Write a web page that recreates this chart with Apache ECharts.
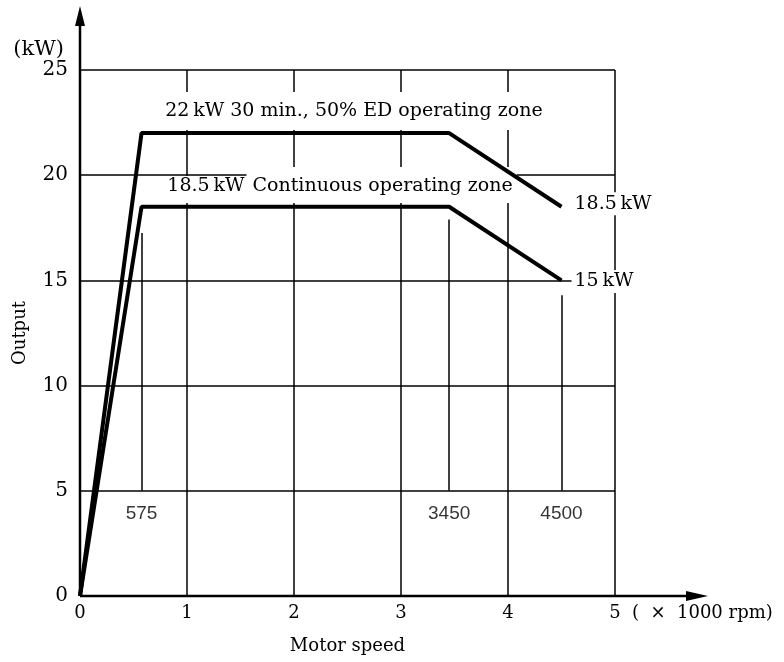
<!DOCTYPE html>
<html>
<head>
<meta charset="utf-8">
<title>Output vs motor speed</title>
<script src="https://cdn.jsdelivr.net/npm/echarts@6/dist/echarts.min.js"></script>
<style>
  html, body { margin: 0; padding: 0; background: #fff; }
  #chart { width: 784px; height: 662px; }
</style>
</head>
<body>
<div id="chart"></div>
<script>
// motor speed in 1000 rpm, output in kW
var speed = [0, 0.575, 3.45, 4.5];
var out30min = [0, 22, 22, 18.5];
var outCont = [0, 18.5, 18.5, 15];

// thin marker lines under the corner speeds
var markSpeed = [0.575, 3.45, 4.5];
var markTop = [17.25, 17.9, 14.3];
var markBottom = 5;
var markLabelAt = 3.9;

var serif = 'DejaVu Serif';

function pairs(xs, ys) {
  return xs.map(function (x, i) { return [x, ys[i]]; });
}

var chart = echarts.init(document.getElementById('chart'));

var option = {
  animation: false,
  backgroundColor: '#fff',
  grid: { left: 80, right: 169, top: 70, bottom: 66, outerBoundsMode: 'none' },
  xAxis: [{
    type: 'value', min: 0, max: 5, interval: 1,
    axisLine: { show: false }, axisTick: { show: false },
    axisLabel: { color: '#000', fontFamily: serif, fontSize: 18, margin: 8 },
    splitLine: { lineStyle: { color: '#000', width: 1.5 } },
    name: '(  ×  1000 rpm)', nameLocation: 'end', nameGap: 17,
    nameTextStyle: { color: '#000', fontFamily: serif, fontSize: 18, align: 'left', verticalAlign: 'top', padding: [8, 0, 0, 0] }
  }, {
    type: 'value', min: 0, max: 5, position: 'bottom',
    axisLine: { show: false }, axisTick: { show: false }, axisLabel: { show: false }, splitLine: { show: false },
    name: 'Motor speed', nameLocation: 'middle', nameGap: 41,
    nameTextStyle: { color: '#000', fontFamily: serif, fontSize: 18 }
  }],
  yAxis: [{
    type: 'value', min: 0, max: 25, interval: 5,
    axisLine: { show: false }, axisTick: { show: false },
    axisLabel: { color: '#000', fontFamily: serif, fontSize: 20, margin: 12 },
    splitLine: { lineStyle: { color: '#000', width: 1.5 } },
    name: '(kW)', nameLocation: 'end', nameGap: 10,
    nameTextStyle: { color: '#000', fontFamily: serif, fontSize: 21, align: 'right', padding: [0, 16, 0, 0] }
  }, {
    type: 'value', min: 0, max: 25, position: 'left',
    axisLine: { show: false }, axisTick: { show: false }, axisLabel: { show: false }, splitLine: { show: false },
    name: 'Output', nameLocation: 'middle', nameGap: 51,
    nameTextStyle: { color: '#000', fontFamily: serif, fontSize: 18 }
  }],
  series: [{
    name: '30 min', type: 'line', z: 4,
    data: pairs(speed, out30min),
    symbol: 'none',
    lineStyle: { color: '#000', width: 4 },
    endLabel: {
      show: true,
      formatter: function () { return out30min[out30min.length - 1] + '\u2009kW'; },
      color: '#000', fontFamily: serif, fontSize: 19,
      backgroundColor: '#fff', padding: [2, 3], distance: 10, offset: [0, -3]
    },
    markPoint: {
      z: 3,
      symbol: 'circle', symbolSize: 0,
      data: [{ coord: [2.56, 23.05], value: 0 }],
      label: {
        show: true, position: 'inside',
        formatter: '22\u2009kW 30 min., 50% ED operating zone',
        color: '#000', fontFamily: serif, fontSize: 19, lineHeight: 20,
        backgroundColor: '#fff', padding: [1, 4, 17, 4]
      }
    }
  }, {
    name: 'continuous', type: 'line', z: 4,
    data: pairs(speed, outCont),
    symbol: 'none',
    lineStyle: { color: '#000', width: 4 },
    endLabel: {
      show: true,
      formatter: function () { return outCont[outCont.length - 1] + '\u2009kW'; },
      color: '#000', fontFamily: serif, fontSize: 19,
      backgroundColor: '#fff', padding: [2, 3], distance: 10, offset: [0, 1]
    },
    markPoint: {
      z: 3,
      symbol: 'circle', symbolSize: 0,
      data: [{ coord: [2.43, 19.15], value: 0 }],
      label: {
        show: true, position: 'inside',
        formatter: '{a|18.5\u2009kW}{b| Continuous operating zone}',
        rich: {
          a: { color: '#000', fontFamily: serif, fontSize: 19, lineHeight: 20, backgroundColor: '#fff', padding: [0, 2, 8, 4], verticalAlign: 'bottom' },
          b: { color: '#000', fontFamily: serif, fontSize: 19, lineHeight: 20, backgroundColor: '#fff', padding: [9, 4, 8, 0], verticalAlign: 'bottom' }
        }
      }
    }
  }, {
    name: 'markers', type: 'lines', coordinateSystem: 'cartesian2d', z: 3,
    data: markSpeed.map(function (x, i) {
      return { coords: [[x, markBottom], [x, markTop[i]]] };
    }),
    lineStyle: { color: '#000', width: 1.5, opacity: 1 }
  }, {
    name: 'marker labels', type: 'scatter', z: 3,
    data: markSpeed.map(function (x) { return [x, markLabelAt]; }),
    symbolSize: 0,
    label: {
      show: true, position: 'inside',
      formatter: function (p) { return String(Math.round(p.value[0] * 1000)); },
      color: '#000', fontFamily: 'Liberation Sans', fontSize: 19
    }
  }]
};

chart.setOption(option);

// axis lines with arrow heads, running past the grid like the drawing
var o = chart.convertToPixel({ xAxisIndex: 0, yAxisIndex: 0 }, [0, 0]);
var yTip = 6, xTip = 708;
chart.setOption({
  graphic: [
    { type: 'line', z: 10, shape: { x1: o[0], y1: o[1], x2: o[0], y2: yTip + 14 }, style: { stroke: '#000', lineWidth: 2.5 } },
    { type: 'polygon', z: 10, shape: { points: [[o[0], yTip], [o[0] - 5, yTip + 20], [o[0] + 5, yTip + 20]] }, style: { fill: '#000' } },
    { type: 'line', z: 10, shape: { x1: o[0], y1: o[1], x2: xTip - 14, y2: o[1] }, style: { stroke: '#000', lineWidth: 2.5 } },
    { type: 'polygon', z: 10, shape: { points: [[xTip, o[1]], [xTip - 22, o[1] - 5], [xTip - 22, o[1] + 5]] }, style: { fill: '#000' } }
  ]
});
</script>
</body>
</html>
